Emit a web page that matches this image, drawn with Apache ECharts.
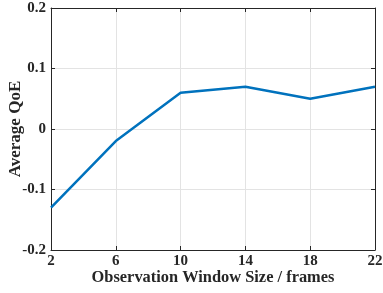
<!DOCTYPE html>
<html>
<head>
<meta charset="utf-8">
<script src="https://cdn.jsdelivr.net/npm/echarts@6/dist/echarts.min.js"></script>
<style>
  html, body { margin: 0; padding: 0; background: #fff; }
  #main { width: 383px; height: 293px; }
</style>
</head>
<body>
<div id="main"></div>
<script>
var windowSizes = ['2', '6', '10', '14', '18', '22'];
var avgQoE = [-0.13, -0.02, 0.06, 0.07, 0.05, 0.07];

var font = 'Liberation Serif';
var axisColor = '#262626';

var myChart = echarts.init(document.getElementById('main'));
myChart.setOption({
    animation: false,
    grid: { left: 51, right: 8, top: 8, bottom: 43, outerBoundsMode: 'none', containLabel: false },
    xAxis: [{
        type: 'category',
        data: windowSizes,
        boundaryGap: false,
        name: 'Observation Window Size / frames',
        nameLocation: 'middle',
        nameGap: 20,
        nameMoveOverlap: false,
        nameTextStyle: { fontFamily: font, fontWeight: 'bold', fontSize: 16.4, color: axisColor },
        axisLine: { onZero: false, lineStyle: { color: axisColor, width: 1 } },
        axisTick: { inside: true, length: 4, lineStyle: { color: axisColor } },
        axisLabel: { fontFamily: font, fontWeight: 'bold', fontSize: 15, color: axisColor, margin: 4 },
        splitLine: { show: true, lineStyle: { color: '#e3e3e3' } }
    }, {
        type: 'category',
        data: windowSizes,
        boundaryGap: false,
        position: 'top',
        axisLine: { onZero: false, lineStyle: { color: axisColor, width: 1 } },
        axisTick: { inside: true, length: 4, lineStyle: { color: axisColor } },
        axisLabel: { show: false }
    }],
    yAxis: [{
        type: 'value',
        min: -0.2,
        max: 0.2,
        interval: 0.1,
        name: 'Average QoE',
        nameLocation: 'middle',
        nameGap: 27,
        nameMoveOverlap: false,
        nameTextStyle: { fontFamily: font, fontWeight: 'bold', fontSize: 17, color: axisColor },
        axisLine: { show: true, onZero: false, lineStyle: { color: axisColor, width: 1 } },
        axisTick: { show: true, inside: true, length: 4, lineStyle: { color: axisColor } },
        axisLabel: {
            fontFamily: font, fontWeight: 'bold', fontSize: 15, color: axisColor, margin: 5,
            formatter: function (v) { return Math.abs(v) < 1e-9 ? '0' : v.toFixed(1); }
        },
        splitLine: { show: true, lineStyle: { color: '#e3e3e3' } }
    }, {
        type: 'value',
        min: -0.2,
        max: 0.2,
        interval: 0.1,
        position: 'right',
        axisLine: { show: true, onZero: false, lineStyle: { color: axisColor, width: 1 } },
        axisTick: { show: true, inside: true, length: 4, lineStyle: { color: axisColor } },
        axisLabel: { show: false },
        splitLine: { show: false }
    }],
    series: [{
        type: 'line',
        data: avgQoE,
        showSymbol: false,
        lineStyle: { color: '#0072BD', width: 2.5 },
        itemStyle: { color: '#0072BD' }
    }]
});
</script>
</body>
</html>
